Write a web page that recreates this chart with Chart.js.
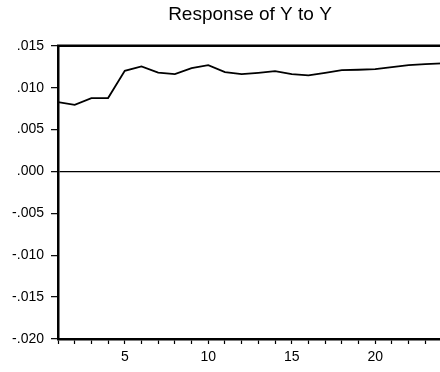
<!DOCTYPE html>
<html>
<head>
<meta charset="utf-8">
<script src="https://cdn.jsdelivr.net/npm/chart.js@4.4.1/dist/chart.umd.min.js"></script>
<style>
  html, body { margin: 0; padding: 0; background: #fff; overflow: hidden; }
  #wrap { position: relative; width: 447px; height: 372px; }
</style>
</head>
<body>
<div id="wrap"><canvas id="c"></canvas></div>
<script>
const periods = [1,2,3,4,5,6,7,8,9,10,11,12,13,14,15,16,17,18,19,20,21,22,23,24];
const responseY = [0.00828,0.00796,0.00876,0.00876,0.01202,0.01253,0.01181,0.01162,0.01234,0.0127,0.01186,0.01162,0.01178,0.01198,0.01162,0.01146,0.01178,0.0121,0.01214,0.01222,0.01246,0.0127,0.01282,0.0129];
const yTicks = [-0.020,-0.015,-0.010,-0.005,0.000,0.005,0.010,0.015];
const xLabelTicks = [5,10,15,20];
const titleText = 'Response of Y to Y';

const FONT = '"Liberation Sans", Arial, sans-serif';

const topBorder = {
  id: 'topBorder',
  afterDraw(chart) {
    const {ctx, chartArea} = chart;
    ctx.save();
    ctx.strokeStyle = '#000';
    ctx.lineWidth = 2.5;
    ctx.beginPath();
    ctx.moveTo(chartArea.left - 1, chartArea.top);
    ctx.lineTo(chartArea.right + 2, chartArea.top);
    ctx.stroke();
    ctx.restore();
  }
};

function fmt(v) {
  const r = Math.round(v * 1000) / 1000;
  let s = Math.abs(r).toFixed(3).replace(/^0\./, '.');
  return (r < 0 ? '-' : '') + s;
}

new Chart(document.getElementById('c'), {
  type: 'line',
  data: {
    datasets: [{
      data: periods.map((p, i) => ({x: p, y: responseY[i]})),
      borderColor: '#000',
      borderWidth: 1.8,
      pointRadius: 0,
      tension: 0,
      fill: false
    }]
  },
  plugins: [topBorder],
  options: {
    responsive: true,
    maintainAspectRatio: false,
    animation: false,
    layout: { padding: { left: 0, right: 1, top: 0, bottom: 0 } },
    plugins: {
      legend: { display: false },
      tooltip: { enabled: false },
      title: {
        display: true,
        fullSize: false,
        text: titleText,
        color: '#000',
        font: { family: FONT, size: 19, weight: 'normal' },
        padding: { top: 3, bottom: 20 },
        align: 'center'
      }
    },
    scales: {
      x: {
        type: 'linear',
        min: 1,
        max: 24,
        afterFit(scale) { scale.height = 33; },
        afterBuildTicks(scale) {
          scale.ticks = periods.map(v => ({value: v}));
        },
        ticks: {
          autoSkip: false,
          maxRotation: 0,
          color: '#000',
          font: { family: FONT, size: 14 },
          padding: 5,
          callback: (v) => xLabelTicks.includes(v) ? String(v) : ''
        },
        grid: {
          drawOnChartArea: false,
          drawTicks: true,
          tickLength: 5,
          tickColor: '#000',
          tickWidth: 1.2
        },
        border: { display: true, color: '#000', width: 2.5 }
      },
      y: {
        type: 'linear',
        min: -0.020,
        max: 0.015,
        afterFit(scale) { scale.width = 58; },
        afterBuildTicks(scale) {
          scale.ticks = yTicks.map(v => ({value: v}));
        },
        ticks: {
          color: '#000',
          font: { family: FONT, size: 14 },
          padding: 7,
          callback: (v) => fmt(v)
        },
        grid: {
          drawOnChartArea: true,
          drawTicks: true,
          tickLength: 7,
          color: (c) => (c.tick && Math.abs(c.tick.value) < 1e-9) ? '#000' : 'rgba(0,0,0,0)',
          lineWidth: 1.3,
          tickColor: '#000',
          tickWidth: 1.2
        },
        border: { display: true, color: '#000', width: 2.5 }
      }
    }
  }
});
</script>
</body>
</html>
